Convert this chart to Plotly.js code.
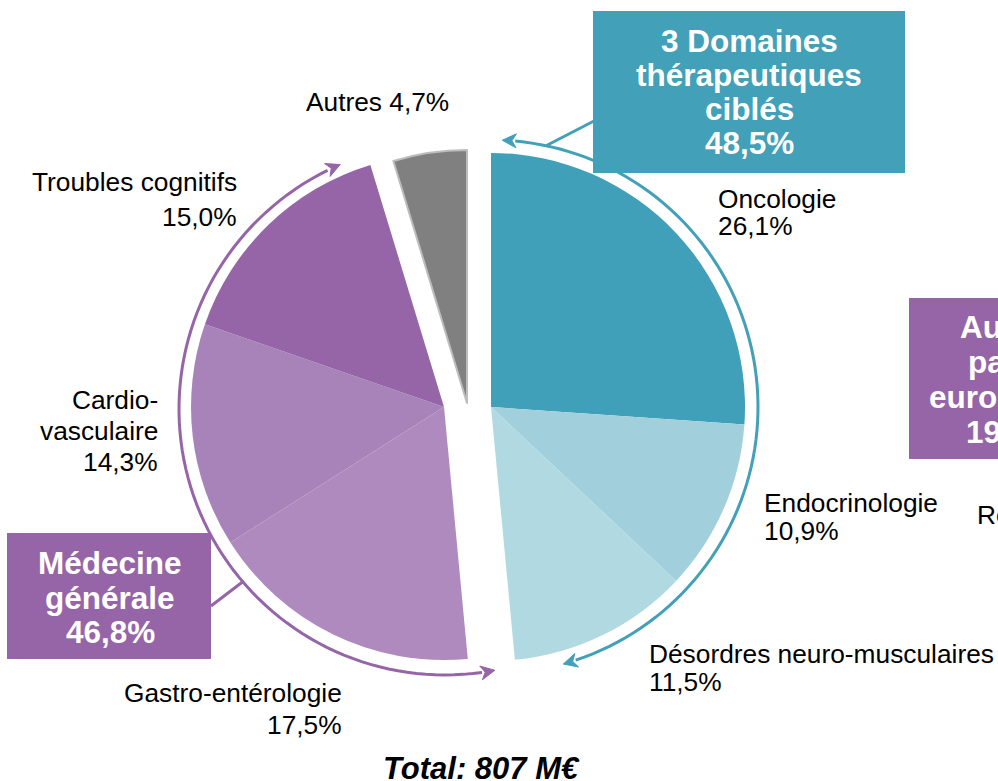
<!DOCTYPE html>
<html>
<head>
<meta charset="utf-8">
<script src="https://cdn.plot.ly/plotly-3.0.1.min.js"></script>
<style>
  html, body { margin: 0; padding: 0; background: #fff; }
  #chart { width: 998px; height: 781px; }
</style>
</head>
<body>
<div id="chart"></div>
<script>
// ---------------- DATA ----------------
const categories = ['Oncologie', 'Endocrinologie', 'Désordres neuro-musculaires',
  'Gastro-entérologie', 'Cardio-vasculaire', 'Troubles cognitifs', 'Autres'];
const values = [26.1, 10.9, 11.5, 17.5, 14.3, 15.0, 4.7];
const sliceGroup = ['cibles', 'cibles', 'cibles', 'generale', 'generale', 'generale', 'autres'];
const labelLines = [['Oncologie'], ['Endocrinologie'], ['Désordres neuro-musculaires'],
  ['Gastro-entérologie'], ['Cardio-', 'vasculaire'], ['Troubles cognitifs'], ['Autres']];
const groupTitles = {
  cibles: ['3 Domaines', 'thérapeutiques', 'ciblés'],
  generale: ['Médecine', 'générale']
};
const totalText = 'Total: 807 M€';
const edgeFragments = ['Au', 'pa', 'euro', '19'];   // cropped box on the right edge
const edgeLabel = 'Re';                              // cropped label on the right edge

// ---------------- STYLE ----------------
const W = 998, H = 781;
const FONT = 'Liberation Sans, Arial, Helvetica, sans-serif';
const sliceColors = ['#41A0B9', '#A1CFDC', '#B1D9E1', '#AE8ABF', '#A883BA', '#9665A8', '#808080'];
const TEAL = '#42A0B8', PURPLE = '#9565A8';
const fmt = v => v.toFixed(1).replace('.', ',') + '%';
const px = x => x / W;
const py = y => 1 - y / H;

// group geometry (pixel centres / radii)
const groupGeom = {
  cibles:   {cx: 491, cy: 407, r: 254},
  generale: {cx: 444, cy: 407, r: 253},
  autres:   {cx: 467, cy: 403, r: 253}
};

function groupTrace(g) {
  const geo = groupGeom[g];
  return {
    type: 'pie',
    values: values,
    labels: categories,
    sort: false,
    direction: 'clockwise',
    rotation: 0,
    textinfo: 'none',
    hoverinfo: 'skip',
    showlegend: false,
    domain: {
      x: [px(geo.cx - geo.r), px(geo.cx + geo.r)],
      y: [py(geo.cy + geo.r), py(geo.cy - geo.r)]
    },
    marker: {
      colors: sliceColors.map((c, i) => sliceGroup[i] === g ? c : 'rgba(0,0,0,0)'),
      line: {
        color: sliceGroup.map((s, i) => (s === g && g === 'autres') ? '#bdbdbd' : 'rgba(0,0,0,0)'),
        width: sliceGroup.map((s, i) => (s === g && g === 'autres') ? 2 : 0)
      }
    }
  };
}

const data = ['cibles', 'generale', 'autres'].map(groupTrace);

// ---------------- ARCS / ARROWS ----------------
function pt(c, r, deg) {
  const a = deg * Math.PI / 180;
  return [c[0] + r * Math.sin(a), c[1] - r * Math.cos(a)];
}
function arcPath(c, r, a1, a2) {
  const n = 80;
  let s = '';
  for (let i = 0; i <= n; i++) {
    const p = pt(c, r, a1 + (a2 - a1) * i / n);
    s += (i === 0 ? 'M' : 'L') + px(p[0]).toFixed(5) + ',' + py(p[1]).toFixed(5);
  }
  return s;
}
// arrowhead whose tip lies on the arc at angle tipDeg, pointing in direction sign (+1 clockwise)
function arrowHead(c, r, tipDeg, sign, L, hw) {
  const tip = pt(c, r, tipDeg);
  const a = tipDeg * Math.PI / 180;
  const d = [sign * Math.cos(a), sign * Math.sin(a)];
  const n = [-d[1], d[0]];
  const base = [tip[0] - L * d[0], tip[1] - L * d[1]];
  const notch = [tip[0] - 0.7 * L * d[0], tip[1] - 0.7 * L * d[1]];
  const p1 = [base[0] + hw * n[0], base[1] + hw * n[1]];
  const p2 = [base[0] - hw * n[0], base[1] - hw * n[1]];
  const P = q => px(q[0]).toFixed(5) + ',' + py(q[1]).toFixed(5);
  return 'M' + P(tip) + 'L' + P(p1) + 'L' + P(notch) + 'L' + P(p2) + 'Z';
}

const shapes = [];
const annotations = [];

// teal arc
const tc = [491, 407], tr = 267;
shapes.push({type: 'path', xref: 'paper', yref: 'paper', path: arcPath(tc, tr, 5.2, 161.5),
  line: {color: TEAL, width: 3}});
shapes.push({type: 'path', xref: 'paper', yref: 'paper', path: arrowHead(tc, tr, 2.4, -1, 14, 7),
  fillcolor: TEAL, line: {color: TEAL, width: 1}});
shapes.push({type: 'path', xref: 'paper', yref: 'paper', path: arrowHead(tc, tr, 164.3, 1, 14, 7),
  fillcolor: TEAL, line: {color: TEAL, width: 1}});
const tcon = pt(tc, tr, 11.9);
shapes.push({type: 'line', xref: 'paper', yref: 'paper', x0: px(594), y0: py(121),
  x1: px(tcon[0]), y1: py(tcon[1]), line: {color: TEAL, width: 3}});

// purple arc
const pc = [445, 409], pr = 266;
shapes.push({type: 'path', xref: 'paper', yref: 'paper', path: arcPath(pc, pr, 172, 333.8),
  line: {color: PURPLE, width: 3}});
shapes.push({type: 'path', xref: 'paper', yref: 'paper', path: arrowHead(pc, pr, 169.2, -1, 14, 7),
  fillcolor: PURPLE, line: {color: PURPLE, width: 1}});
shapes.push({type: 'path', xref: 'paper', yref: 'paper', path: arrowHead(pc, pr, 336.8, 1, 14, 7),
  fillcolor: PURPLE, line: {color: PURPLE, width: 1}});
const pcon = pt(pc, pr, 229.5);
shapes.push({type: 'line', xref: 'paper', yref: 'paper', x0: px(211), y0: py(606),
  x1: px(pcon[0]), y1: py(pcon[1]), line: {color: PURPLE, width: 3}});

// boxes
function box(x0, y0, x1, y1, color) {
  shapes.push({type: 'rect', xref: 'paper', yref: 'paper', x0: px(x0), x1: px(x1),
    y0: py(y1), y1: py(y0), fillcolor: color, line: {width: 0}, layer: 'above'});
}
box(593, 11, 905, 173, TEAL);
box(7, 533, 211, 659, PURPLE);
box(909, 298, 1010, 459, PURPLE);

// ---------------- TEXT ----------------
function txt(text, x, y, anchor, size, opts) {
  opts = opts || {};
  annotations.push({
    text: text, xref: 'paper', yref: 'paper', x: px(x), y: py(y),
    xanchor: anchor, yanchor: 'middle', showarrow: false, borderpad: 0,
    font: {family: FONT, size: size, color: opts.color || '#000',
      weight: opts.weight || 'normal', style: opts.style || 'normal'}
  });
}
const LS = 26.3;
// slice labels  [x, y of first line, anchor, line gap]
const labelPos = [
  [717, 198.5, 'left', 28],
  [763, 503, 'left', 28],
  [648, 654, 'left', 27.5],
  [343, 693, 'right', 32],
  [159, 399.5, 'right', 31.5],
  [238, 182, 'right', 35],
  [305, 101.5, 'left', 0]
];
categories.forEach((c, i) => {
  const [x, y, anc, gap] = labelPos[i];
  const lines = labelLines[i];
  if (gap === 0) {
    txt(lines[0] + ' ' + fmt(values[i]), x, y, anc, LS);
  } else {
    lines.forEach((l, k) => txt(l, x, y + k * gap, anc, LS));
    txt(fmt(values[i]), x, y + lines.length * gap, anc, LS);
  }
});

// group boxes text
const sumOf = g => values.reduce((s, v, i) => s + (sliceGroup[i] === g ? v : 0), 0);
const BS = 31.5;
groupTitles.cibles.concat([fmt(sumOf('cibles'))]).forEach((l, k) =>
  txt(l, 749, 41 + k * 34, 'center', BS, {color: '#fff', weight: 'bold'}));
groupTitles.generale.concat([fmt(sumOf('generale'))]).forEach((l, k) =>
  txt(l, 110, 563 + k * 34.5, 'center', BS, {color: '#fff', weight: 'bold'}));

// cropped right-edge box and label
const edgeX = [959, 967, 928, 965];
edgeFragments.forEach((f, k) =>
  txt(f, edgeX[k], 327 + k * 35, 'left', BS, {color: '#fff', weight: 'bold'}));
txt(edgeLabel, 976, 515, 'left', LS);

// total
txt(totalText, 481, 768, 'center', 31, {weight: 'bold', style: 'italic'});

const layout = {
  width: W, height: H,
  margin: {l: 0, r: 0, t: 0, b: 0},
  paper_bgcolor: '#fff',
  plot_bgcolor: '#fff',
  showlegend: false,
  shapes: shapes,
  annotations: annotations,
  font: {family: FONT}
};

Plotly.newPlot('chart', data, layout, {displayModeBar: false, staticPlot: true});
</script>
</body>
</html>
